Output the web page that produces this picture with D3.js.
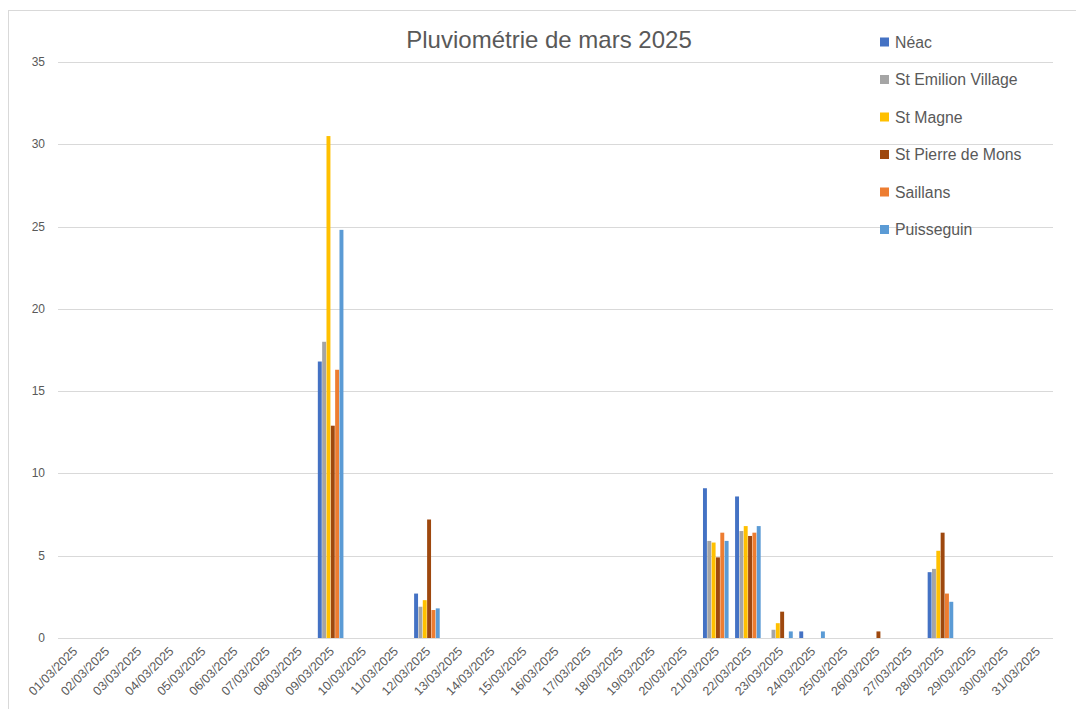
<!DOCTYPE html>
<html>
<head>
<meta charset="utf-8">
<script src="https://cdn.jsdelivr.net/npm/d3@7"></script>
<style>
  html, body { margin: 0; padding: 0; background: #fff; }
  svg { display: block; }
  text { font-family: "Liberation Sans", "DejaVu Sans", sans-serif; fill: #595959; }
</style>
</head>
<body>
<svg id="chart" width="1076" height="709"></svg>
<script>
const dates = ["01/03/2025","02/03/2025","03/03/2025","04/03/2025","05/03/2025","06/03/2025","07/03/2025","08/03/2025","09/03/2025","10/03/2025","11/03/2025","12/03/2025","13/03/2025","14/03/2025","15/03/2025","16/03/2025","17/03/2025","18/03/2025","19/03/2025","20/03/2025","21/03/2025","22/03/2025","23/03/2025","24/03/2025","25/03/2025","26/03/2025","27/03/2025","28/03/2025","29/03/2025","30/03/2025","31/03/2025"];
const seriesNames = ["Néac","St Emilion Village","St Magne","St Pierre de Mons","Saillans","Puisseguin"];
const seriesColors = ["#4472C4","#A5A5A5","#FFC000","#9E480E","#ED7D31","#5B9BD5"];
const neac      = [0,0,0,0,0,0,0,0,16.8,0,0,2.7,0,0,0,0,0,0,0,0,9.1,8.6,0,0.4,0,0,0,4.0,0,0,0];
const stEmilion = [0,0,0,0,0,0,0,0,18.0,0,0,1.9,0,0,0,0,0,0,0,0,5.9,6.5,0.5,0,0,0,0,4.2,0,0,0];
const stMagne   = [0,0,0,0,0,0,0,0,30.5,0,0,2.3,0,0,0,0,0,0,0,0,5.8,6.8,0.9,0,0,0,0,5.3,0,0,0];
const stPierre  = [0,0,0,0,0,0,0,0,12.9,0,0,7.2,0,0,0,0,0,0,0,0,4.9,6.2,1.6,0,0,0.4,0,6.4,0,0,0];
const saillans  = [0,0,0,0,0,0,0,0,16.3,0,0,1.7,0,0,0,0,0,0,0,0,6.4,6.4,0,0,0,0,0,2.7,0,0,0];
const puisseguin= [0,0,0,0,0,0,0,0,24.8,0,0,1.8,0,0,0,0,0,0,0,0,5.9,6.8,0.4,0.4,0,0,0,2.2,0,0,0];
const yTicks = [0,5,10,15,20,25,30,35];
const title = "Pluviométrie de mars 2025";

const seriesValues = [neac, stEmilion, stMagne, stPierre, saillans, puisseguin];

const svg = d3.select("#chart");
const plot = {left: 58, right: 1053, top: 62, bottom: 638};

// chart border
svg.append("rect").attr("x", 8.5).attr("y", 10.5).attr("width", 1100).attr("height", 720)
  .attr("fill", "none").attr("stroke", "#d9d9d9").attr("stroke-width", 1);

const x0 = d3.scaleBand().domain(dates).range([plot.left, plot.right])
  .paddingInner(0.19).paddingOuter(0.095);
const x1 = d3.scaleBand().domain(seriesNames).range([0, x0.bandwidth()]).padding(0);
const y = d3.scaleLinear().domain([0, 35]).range([plot.bottom, plot.top]);

// gridlines
svg.append("g").selectAll("line").data(yTicks).join("line")
  .attr("x1", plot.left).attr("x2", plot.right)
  .attr("y1", d => Math.round(y(d)) + 0.5).attr("y2", d => Math.round(y(d)) + 0.5)
  .attr("stroke", "#d9d9d9").attr("stroke-width", 1);

// y labels
svg.append("g").selectAll("text").data(yTicks).join("text")
  .attr("x", 45).attr("y", d => y(d) + 4)
  .attr("text-anchor", "end").attr("font-size", 12)
  .text(d => d);

// bars
const groups = svg.append("g").selectAll("g").data(seriesNames).join("g")
  .attr("fill", (d, i) => seriesColors[i]);
groups.selectAll("rect")
  .data((s, si) => dates.map((dt, di) => ({s, dt, v: seriesValues[si][di]})))
  .join("rect")
  .attr("x", d => x0(d.dt) + x1(d.s))
  .attr("width", x1.bandwidth() - 0.4)
  .attr("y", d => y(d.v))
  .attr("height", d => y(0) - y(d.v));

// x labels
svg.append("g").selectAll("text").data(dates).join("text")
  .attr("transform", d => `translate(${x0(d) + x0.bandwidth()/2 + 4},${plot.bottom + 14}) rotate(-45)`)
  .attr("text-anchor", "end").attr("font-size", 12.5)
  .text(d => d);

// title
svg.append("text").attr("x", 549).attr("y", 48).attr("text-anchor", "middle")
  .attr("font-size", 24).text(title);

// legend
const leg = svg.append("g").selectAll("g").data(seriesNames).join("g")
  .attr("transform", (d, i) => `translate(880,${37.5 + i * 37.5})`);
leg.append("rect").attr("width", 9).attr("height", 9).attr("fill", (d, i) => seriesColors[i]);
leg.append("text").attr("x", 15).attr("y", 10).attr("font-size", 15.8).text(d => d);
</script>
</body>
</html>
